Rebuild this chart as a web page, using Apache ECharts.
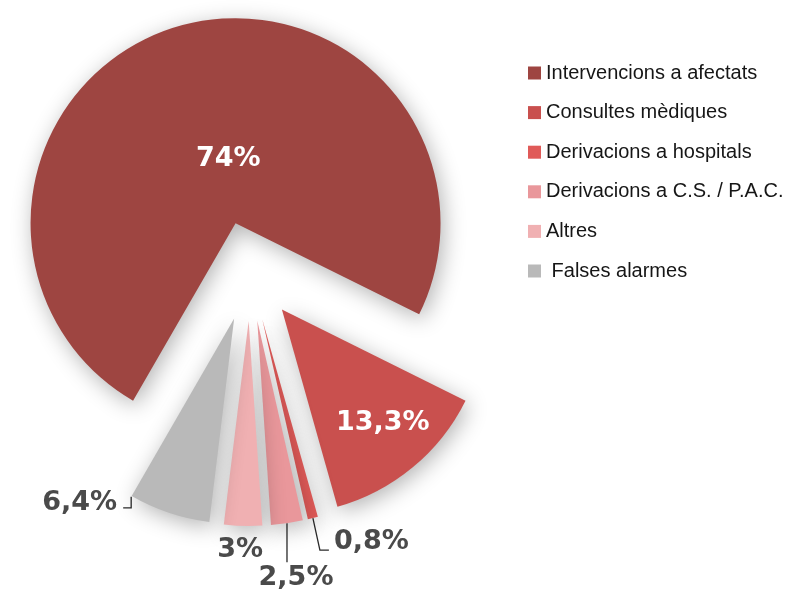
<!DOCTYPE html>
<html>
<head>
<meta charset="utf-8">
<script src="https://cdn.jsdelivr.net/npm/echarts@6/dist/echarts.min.js"></script>
<style>
  html, body { margin: 0; padding: 0; background: #ffffff; }
  #chart { width: 808px; height: 592px; }
</style>
</head>
<body>
<div id="chart"></div>
<script>
// Activitat: distribució de les intervencions (%)
const categories = [
  'Intervencions a afectats',
  'Consultes mèdiques',
  'Derivacions a hospitals',
  'Derivacions a C.S. / P.A.C.',
  'Altres',
  'Falses alarmes'
];
const shares = [74, 13.3, 0.8, 2.5, 3, 6.4];
const sliceColors = ['#9e4541', '#c9504e', '#e05a58', '#e9979b', '#f0b0b2', '#b9b9b9'];

// Pie geometry
const PIE_CENTER = [250, 271];
const PIE_RADIUS = 205;
const START_ANGLE = 240;
const EXPLODE = 50;          // every slice is pulled out from the centre

// Catalan decimal comma
const fmt = v => String(v).replace('.', ',') + '%';

// Label placement relative to the rim point (middle of each slice's arc)
const labelSpecs = [
  { dx: 52,  dy: 132, align: 'center', color: '#ffffff', line: null },
  { dx: -30, dy: -44, align: 'center', color: '#ffffff', line: null },
  { dx: 21,  dy: 24,  align: 'left',   color: '#4a4a4a', line: [[0, 0], [7, 32], [16, 32]] },
  { dx: 9,   dy: 55,  align: 'center', color: '#4a4a4a', line: [[0, 0], [0, 20], [0, 39]] },
  { dx: -3,  dy: 24,  align: 'center', color: '#4a4a4a', line: null },
  { dx: -52, dy: -10, align: 'right',  color: '#4a4a4a', line: [[-38, -16], [-38, -5], [-46, -5]] }
];

const total = shares.reduce((a, b) => a + b, 0);

// middle angle (degrees, counter-clockwise from +x) of each slice, drawn clockwise
const midAngles = [];
(function () {
  let cum = 0;
  shares.forEach(v => {
    midAngles.push(START_ANGLE - (cum + v / 2) / total * 360);
    cum += v;
  });
})();

const unit = i => {
  const a = midAngles[i] * Math.PI / 180;
  return [Math.cos(a), -Math.sin(a)];
};
const sliceCenter = i => {
  const u = unit(i);
  return [PIE_CENTER[0] + EXPLODE * u[0], PIE_CENTER[1] + EXPLODE * u[1]];
};
const rimPoint = i => {
  const c = sliceCenter(i), u = unit(i);
  return [c[0] + PIE_RADIUS * u[0], c[1] + PIE_RADIUS * u[1]];
};

const hidden = {
  color: 'rgba(0,0,0,0)',
  shadowBlur: 0,
  shadowColor: 'rgba(0,0,0,0)'
};

// One pie per slice, each centred on its exploded position; the other slices
// of that pie stay transparent so the angles remain those of the full pie.
const series = categories.map((owner, k) => ({
  type: 'pie',
  name: owner,
  center: sliceCenter(k),
  radius: [0, PIE_RADIUS],
  startAngle: START_ANGLE,
  clockwise: true,
  avoidLabelOverlap: false,
  silent: true,
  emphasis: { disabled: true },
  label: {
    formatter: p => fmt(p.value),
    fontFamily: 'DejaVu Sans',
    fontWeight: 'bold',
    fontSize: 27
  },
  labelLine: {
    lineStyle: { color: '#2a2a2a', width: 1.3 }
  },
  data: categories.map((name, i) => ({
    name,
    value: shares[i],
    itemStyle: i === k ? {
      color: sliceColors[i],
      shadowBlur: 22,
      shadowColor: 'rgba(0,0,0,0.30)',
      shadowOffsetX: 3,
      shadowOffsetY: 5
    } : hidden,
    label: {
      show: i === k,
      position: i < 2 ? 'inside' : 'outside',
      color: labelSpecs[i].color
    },
    labelLine: { show: i === k && labelSpecs[i].line !== null }
  })),
  labelLayout: function (params) {
    const i = params.dataIndex;
    if (i !== k) return {};
    const spec = labelSpecs[i];
    const p0 = rimPoint(i);
    const out = {
      x: p0[0] + spec.dx,
      y: p0[1] + spec.dy,
      align: spec.align,
      verticalAlign: 'middle'
    };
    if (spec.line) {
      out.labelLinePoints = spec.line.map(d => [p0[0] + d[0], p0[1] + d[1]]);
    }
    return out;
  }
}));

const chart = echarts.init(document.getElementById('chart'), null, { renderer: 'canvas' });

chart.setOption({
  backgroundColor: '#ffffff',
  animation: false,
  legend: {
    orient: 'vertical',
    left: 528,
    top: 63,
    padding: 0,
    icon: 'rect',
    itemWidth: 13,
    itemHeight: 13,
    itemGap: 19.6,
    selectedMode: false,
    data: categories.map((name, i) => ({ name, itemStyle: { color: sliceColors[i] } })),
    formatter: n => (n === 'Falses alarmes' ? ' ' + n : n),
    textStyle: {
      fontFamily: '"Liberation Sans", Arial, sans-serif',
      fontSize: 20,
      lineHeight: 20,
      color: '#161616'
    }
  },
  series: series
});
</script>
</body>
</html>
